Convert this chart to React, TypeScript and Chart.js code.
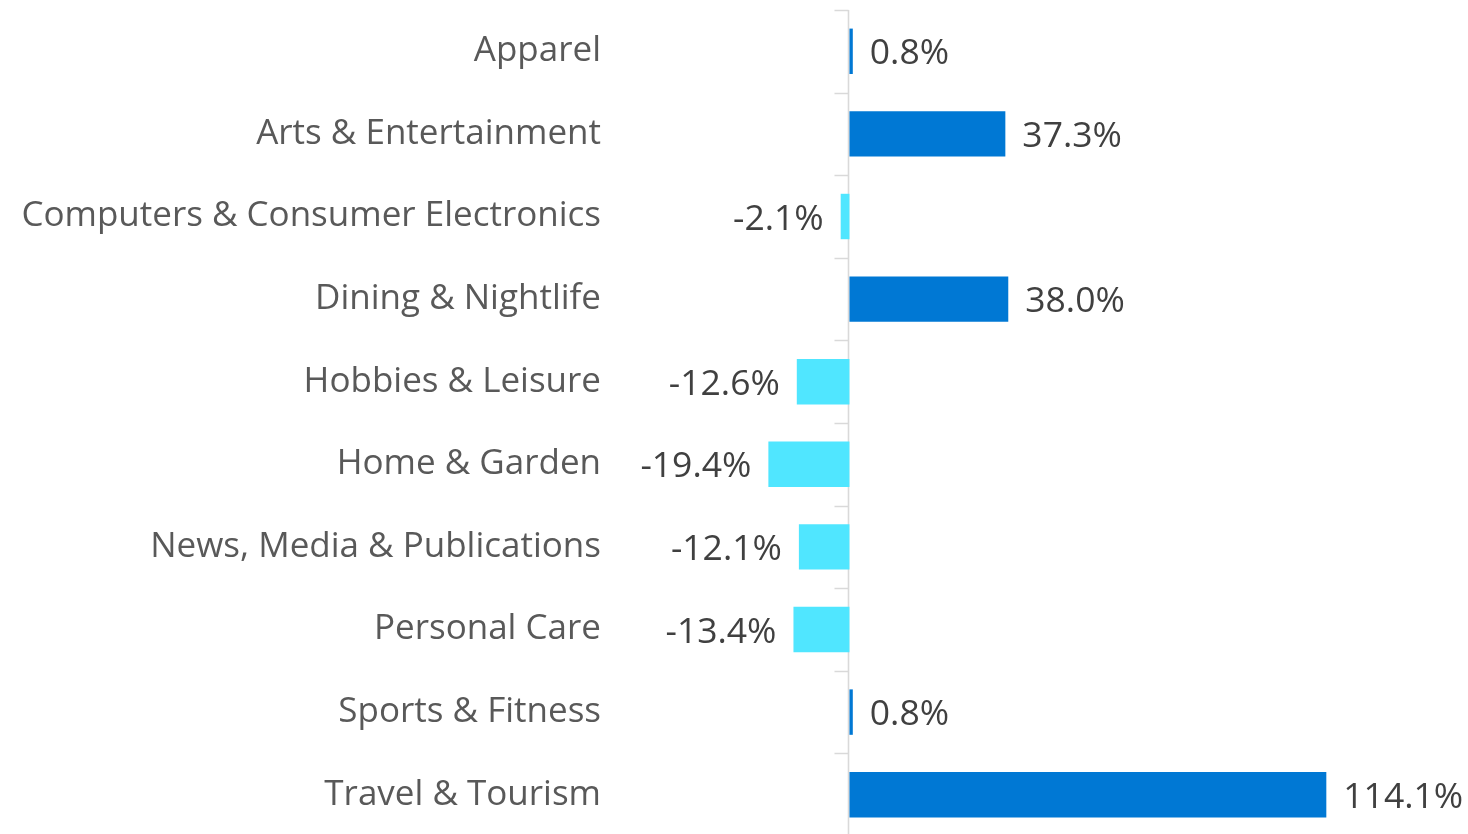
import React, { useEffect, useRef } from "react";
import { Chart, registerables } from "chart.js";

Chart.register(...registerables);

const categories = [
  "Apparel",
  "Arts & Entertainment",
  "Computers & Consumer Electronics",
  "Dining & Nightlife",
  "Hobbies & Leisure",
  "Home & Garden",
  "News, Media & Publications",
  "Personal Care",
  "Sports & Fitness",
  "Travel & Tourism",
];
const changeValues = [0.8, 37.3, -2.1, 38.0, -12.6, -19.4, -12.1, -13.4, 0.8, 114.1];

const POS_COLOR = "#0078D4";
const NEG_COLOR = "#50E6FF";
const FONT = "'Open Sans', 'Noto Sans', sans-serif";

const zeroAxisPlugin = {
  id: "zeroAxis",
  beforeDatasetsDraw(chart: any) {
    const { ctx, chartArea, scales } = chart;
    const x0 = Math.round(scales.x.getPixelForValue(0)) - 0.5;
    const y = scales.y;
    const n = categories.length;
    const step = (y.getPixelForValue(n - 1) - y.getPixelForValue(0)) / (n - 1);
    ctx.save();
    ctx.strokeStyle = "#D9D9D9";
    ctx.lineWidth = 1.6;
    ctx.beginPath();
    ctx.moveTo(x0, chartArea.top);
    ctx.lineTo(x0, chartArea.bottom);
    for (let i = 0; i <= n; i++) {
      const yy = Math.round(y.getPixelForValue(0) - step / 2 + i * step) + 0.5;
      ctx.moveTo(x0 - 14, yy);
      ctx.lineTo(x0, yy);
    }
    ctx.stroke();
    ctx.restore();
  },
};

const dataLabelPlugin = {
  id: "dataLabels",
  afterDatasetsDraw(chart: any) {
    const { ctx } = chart;
    const meta = chart.getDatasetMeta(0);
    ctx.save();
    ctx.font = `35.5px ${FONT}`;
    ctx.fillStyle = "#404040";
    ctx.textBaseline = "middle";
    meta.data.forEach((el: any, i: number) => {
      const v = changeValues[i];
      const text = v.toFixed(1) + "%";
      if (v >= 0) {
        ctx.textAlign = "left";
        ctx.fillText(text, el.x + 17, el.y + 3);
      } else {
        ctx.textAlign = "right";
        ctx.fillText(text, el.x - 17, el.y + 3);
      }
    });
    ctx.restore();
  },
};

export default function App() {
  const ref = useRef<HTMLCanvasElement | null>(null);
  useEffect(() => {
    if (!ref.current) return;
    const chart = new Chart(ref.current, {
      type: "bar",
      data: {
        labels: categories,
        datasets: [
          {
            data: changeValues,
            backgroundColor: changeValues.map((v) => (v >= 0 ? POS_COLOR : NEG_COLOR)),
            barPercentage: 0.55,
            categoryPercentage: 1,
          },
        ],
      },
      options: {
        indexAxis: "y",
        responsive: false,
        animation: false,
        layout: { padding: { top: 10, bottom: 0, left: 0, right: 0 } },
        plugins: { legend: { display: false }, tooltip: { enabled: false } },
        scales: {
          x: {
            display: false,
            min: -56.1,
            max: 148.0,
          },
          y: {
            grid: { display: false, drawTicks: false },
            border: { display: false },
            ticks: {
              padding: 14,
              color: "#595959",
              font: { family: FONT, size: 35 },
            },
            afterFit: (scale: any) => {
              scale.width = 615;
              scale.paddingTop = 0;
              scale.paddingBottom = 0;
            },
          },
        },
      },
      plugins: [zeroAxisPlugin, dataLabelPlugin],
    });
    return () => chart.destroy();
  }, []);
  return (
    <div style={{ position: "fixed", left: 0, top: 0, width: 1468, height: 834, overflow: "hidden", background: "#fff" }}>
      <canvas ref={ref} width={1468} height={836} style={{ display: "block" }} />
    </div>
  );
}
